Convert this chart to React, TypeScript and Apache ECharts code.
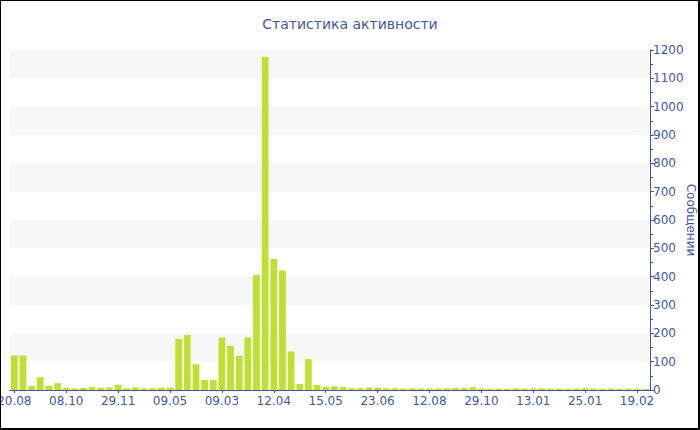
import React, { useEffect, useRef } from "react";
import * as echarts from "echarts";

const categories: string[] = [
  "20.08", "", "", "", "", "",
  "08.10", "", "", "", "", "",
  "29.11", "", "", "", "", "",
  "09.05", "", "", "", "", "",
  "09.03", "", "", "", "", "",
  "12.04", "", "", "", "", "",
  "15.05", "", "", "", "", "",
  "23.06", "", "", "", "", "",
  "12.08", "", "", "", "", "",
  "29.10", "", "", "", "", "",
  "13.01", "", "", "", "", "",
  "25.01", "", "", "", "", "",
  "19.02", "",
];

const messages: number[] = [
  122, 122, 14, 45, 15, 24,
  7, 5, 7, 10, 8, 9,
  19, 6, 9, 6, 6, 8,
  8, 180, 194, 91, 35, 35,
  185, 156, 121, 185, 406, 1175,
  462, 422, 136, 21, 109, 18,
  11, 13, 11, 6, 6, 9,
  8, 6, 6, 5, 6, 5,
  5, 5, 6, 7, 7, 10,
  5, 4, 5, 4, 6, 5,
  5, 6, 5, 5, 4, 5,
  6, 5, 4, 5, 4, 5,
  4, 4,
];

const titleText = "Статистика активности";
const yAxisName = "Сообщении";

const BLUE = "#3f57a4";
const FONT = "DejaVu Sans";

export default function App() {
  const ref = useRef<HTMLDivElement>(null);

  useEffect(() => {
    document.body.style.margin = "0";
    if (!ref.current) return;
    const chart = echarts.init(ref.current, undefined, { renderer: "svg" });
    chart.setOption({
      animation: false,
      textStyle: { fontFamily: FONT },
      title: {
        text: titleText,
        left: "center",
        top: 12,
        textStyle: { color: BLUE, fontSize: 14, fontWeight: "normal", fontFamily: FONT },
      },
      grid: { left: 10, right: 50, top: 50, bottom: 40, containLabel: false, outerBoundsMode: "none" },
      xAxis: {
        type: "category",
        data: categories,
        boundaryGap: true,
        axisLine: { show: true, lineStyle: { color: BLUE, width: 1 } },
        axisTick: { show: true, alignWithLabel: true, interval: 5, length: 3, lineStyle: { color: BLUE } },
        axisLabel: { interval: 5, color: BLUE, fontSize: 12, fontFamily: FONT, margin: 5, hideOverlap: false },
        splitLine: { show: false },
      },
      yAxis: {
        type: "value",
        position: "right",
        min: 0,
        max: 1200,
        interval: 100,
        name: yAxisName,
        nameLocation: "middle",
        nameRotate: -90,
        nameGap: 35,
        nameMoveOverlap: false,
        nameTextStyle: { color: BLUE, fontSize: 12, fontFamily: FONT },
        axisLine: { show: true, lineStyle: { color: BLUE, width: 1 } },
        axisTick: { show: true, inside: false, length: 4, lineStyle: { color: BLUE } },
        minorTick: { show: true, splitNumber: 2, length: 3, lineStyle: { color: BLUE } },
        axisLabel: {
          color: BLUE,
          fontSize: 12,
          fontFamily: FONT,
          margin: 3,
          formatter: (v: number) => String(v),
        },
        splitLine: { show: false },
        splitArea: { show: true, areaStyle: { color: ["rgba(255,255,255,0)", "#f7f7f7"] } },
      },
      series: [
        {
          type: "bar",
          data: messages,
          barCategoryGap: "22%",
          itemStyle: { color: "#bde033" },
        },
      ],
    });
    return () => chart.dispose();
  }, []);

  return (
    <div
      style={{
        position: "relative",
        width: 700,
        height: 430,
        boxSizing: "border-box",
        borderStyle: "solid",
        borderColor: "#000",
        borderWidth: "1px 2px 2px 1px",
        overflow: "hidden",
      }}
    >
      <div ref={ref} style={{ position: "absolute", left: -1, top: -1, width: 700, height: 430 }} />
    </div>
  );
}
